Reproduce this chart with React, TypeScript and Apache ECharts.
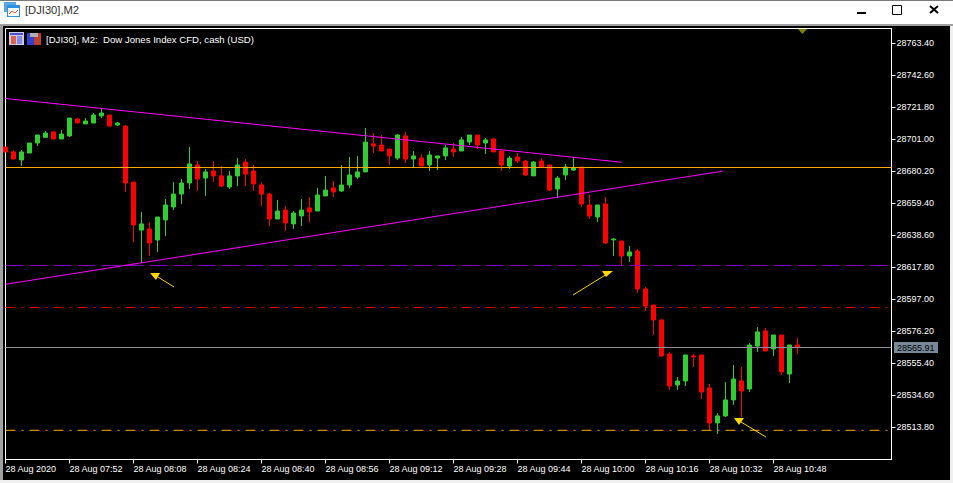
import React, { useEffect, useRef } from "react";
import * as echarts from "echarts";

const opens = [
  28696.0, 28692.8, 28687.6, 28692.1, 28698.6, 28702.3, 28705.8, 28701.2, 28703.2, 28714.2,
  28711.0, 28711.6, 28716.2, 28716.8, 28710.3, 28709.6, 28673.2, 28642.0, 28642.7, 28635.6,
  28648.6, 28657.0, 28665.4, 28672.6, 28684.3, 28675.8, 28680.4, 28677.2, 28670.0, 28677.2,
  28686.2, 28680.4, 28671.3, 28665.4, 28649.2, 28655.0, 28646.0, 28651.2, 28656.4, 28654.4,
  28664.2, 28669.4, 28667.4, 28671.3, 28676.5, 28679.8, 28698.0, 28697.3, 28694.7, 28688.8,
  28703.2, 28688.2, 28688.8, 28684.3, 28688.8, 28690.2, 28694.7, 28693.4, 28699.2, 28703.8,
  28698.6, 28701.2, 28693.4, 28683.6, 28689.5, 28686.9, 28677.2, 28686.9, 28684.3, 28668.7,
  28677.8, 28681.0, 28683.0, 28658.3, 28650.5, 28659.0, 28635.6, 28634.9, 28625.2, 28628.4,
  28603.7, 28593.3, 28583.6, 28561.4, 28541.3, 28543.9, 28560.2, 28560.8, 28539.4, 28516.6,
  28521.2, 28531.6, 28543.9, 28538.7, 28566.6, 28576.4, 28564.7, 28573.8, 28548.4, 28567.3,
];
const closes = [
  28692.8, 28688.2, 28692.8, 28698.6, 28703.8, 28705.1, 28701.2, 28704.4, 28714.8, 28711.6,
  28712.9, 28716.8, 28718.1, 28709.6, 28711.6, 28672.6, 28645.3, 28646.0, 28633.6, 28650.5,
  28658.3, 28665.4, 28672.6, 28685.0, 28675.2, 28679.8, 28677.2, 28670.6, 28677.2, 28684.3,
  28678.4, 28672.0, 28665.4, 28649.2, 28654.4, 28646.6, 28653.1, 28655.0, 28653.8, 28664.8,
  28668.0, 28666.8, 28671.3, 28677.8, 28679.8, 28699.2, 28696.6, 28693.4, 28690.2, 28703.8,
  28688.2, 28690.2, 28683.6, 28690.8, 28690.2, 28695.4, 28692.8, 28700.6, 28703.8, 28697.3,
  28700.6, 28692.8, 28684.3, 28688.8, 28686.9, 28677.8, 28686.2, 28683.0, 28668.0, 28675.8,
  28683.0, 28682.4, 28659.0, 28651.2, 28658.3, 28633.6, 28636.2, 28625.2, 28627.8, 28603.7,
  28592.6, 28583.6, 28560.2, 28540.6, 28543.9, 28560.8, 28559.5, 28536.8, 28516.6, 28521.2,
  28531.6, 28545.2, 28537.4, 28567.3, 28575.8, 28563.4, 28573.8, 28549.8, 28567.3, 28565.9,
];
const lows = [
  28692.8, 28688.2, 28683.6, 28692.1, 28696.6, 28701.8, 28701.2, 28701.2, 28702.5, 28711.6,
  28711.0, 28711.6, 28714.8, 28709.6, 28709.6, 28666.8, 28634.2, 28620.6, 28625.2, 28627.8,
  28638.2, 28655.0, 28659.0, 28668.7, 28667.4, 28664.2, 28673.2, 28670.0, 28668.7, 28670.6,
  28670.6, 28667.4, 28657.6, 28644.6, 28649.2, 28641.4, 28642.7, 28644.6, 28647.2, 28654.4,
  28664.2, 28663.5, 28666.8, 28669.4, 28675.2, 28679.8, 28692.1, 28693.4, 28684.3, 28687.6,
  28685.6, 28682.8, 28683.6, 28680.4, 28681.0, 28687.6, 28689.5, 28693.4, 28697.3, 28694.7,
  28691.4, 28692.8, 28680.4, 28681.7, 28685.6, 28677.2, 28677.2, 28683.0, 28667.4, 28662.8,
  28674.6, 28680.4, 28657.0, 28649.2, 28647.2, 28633.0, 28625.2, 28618.8, 28621.2, 28601.1,
  28589.4, 28573.8, 28559.5, 28538.0, 28538.0, 28540.6, 28553.0, 28532.2, 28511.8, 28509.4,
  28520.5, 28528.3, 28520.5, 28536.8, 28562.8, 28563.4, 28560.2, 28547.8, 28542.6, 28561.4,
];
const highs = [
  28696.0, 28694.0, 28694.0, 28698.6, 28703.8, 28706.4, 28705.8, 28707.0, 28714.8, 28714.8,
  28714.8, 28718.1, 28720.7, 28716.8, 28712.2, 28710.3, 28673.2, 28653.8, 28647.2, 28650.5,
  28662.2, 28673.2, 28675.2, 28696.0, 28686.9, 28681.7, 28686.9, 28683.6, 28680.4, 28688.8,
  28688.2, 28684.3, 28673.2, 28666.1, 28661.6, 28657.6, 28654.4, 28662.2, 28663.5, 28669.4,
  28677.2, 28673.9, 28684.3, 28689.5, 28690.2, 28708.4, 28705.1, 28703.8, 28694.7, 28704.4,
  28705.8, 28693.4, 28691.4, 28693.4, 28690.2, 28697.3, 28698.6, 28702.5, 28703.8, 28703.8,
  28701.8, 28701.8, 28693.4, 28690.2, 28692.1, 28687.6, 28686.9, 28688.8, 28684.3, 28677.2,
  28685.0, 28689.5, 28683.0, 28664.8, 28658.3, 28663.5, 28636.8, 28634.9, 28631.6, 28629.7,
  28605.0, 28593.3, 28583.6, 28562.8, 28546.5, 28560.8, 28561.4, 28560.8, 28542.0, 28523.1,
  28543.2, 28554.3, 28553.0, 28568.6, 28579.0, 28578.4, 28573.8, 28573.8, 28567.3, 28571.8,
];

const timeLabels = [
  "28 Aug 2020", "28 Aug 07:52", "28 Aug 08:08", "28 Aug 08:24", "28 Aug 08:40", "28 Aug 08:56", "28 Aug 09:12",
  "28 Aug 09:28", "28 Aug 09:44", "28 Aug 10:00", "28 Aug 10:16", "28 Aug 10:32", "28 Aug 10:48",
];
const priceTicks = [
  28513.8, 28534.6, 28555.4, 28576.2, 28597.0, 28617.8, 28638.6, 28659.4, 28680.2, 28701.0, 28721.8, 28742.6, 28763.4,
];

const resistanceLevel = 28682.67;
const purpleLevel = 28619.0;
const redLevel = 28591.67;
const bidLine = 28565.67;
const bidLabel = "28565.91";
const orangeLevel = 28511.85;
const upperTrend = [[0, 28727.5], [77.06, 28686.05]];
const lowerTrend = [[0, 28606.75], [89.69, 28680.36]];

const FONT = "'Liberation Sans', Arial, sans-serif";
const X_MAX = 110.75;
const Y_MAX = 28773.02;
const Y_MIN = 28492.87;

const hline = (name: string, value: number, color: string, type: any) => ({
  type: "line",
  name,
  data: [[0, value], [X_MAX, value]],
  showSymbol: false,
  silent: true,
  z: 4,
  lineStyle: { color, width: 1, type },
});
const trend = (name: string, data: number[][]) => ({
  type: "line",
  name,
  data,
  showSymbol: false,
  silent: true,
  z: 5,
  lineStyle: { color: "#FF00FF", width: 1 },
});

const rect = (x: number, y: number, w: number, h: number, fill: string, z = -5) => ({
  type: "rect",
  z,
  silent: true,
  shape: { x, y, width: w, height: h },
  style: { fill },
});
const poly = (points: number[][], fill: string) => ({
  type: "polygon",
  z: 50,
  silent: true,
  shape: { points },
  style: { fill },
});
const seg = (x1: number, y1: number, x2: number, y2: number, stroke: string, lineWidth = 1, z = 50) => ({
  type: "line",
  z,
  silent: true,
  shape: { x1, y1, x2, y2 },
  style: { stroke, lineWidth },
});
const label = (x: number, y: number, text: string, fontSize: number, fill: string) => ({
  type: "text",
  z: 50,
  silent: true,
  x,
  y,
  style: { text, fontSize, fill, fontFamily: FONT, verticalAlign: "middle", align: "left" },
});

const chrome = [
  rect(0, 0, 953, 1, "#7a7a7a"),
  rect(0, 1, 953, 23, "#ffffff"),
  rect(0, 24, 953, 2, "#a0a0a0"),
  rect(0, 26, 3, 454, "#a0a0a0"),
  rect(3, 26, 947, 454, "#000000"),
  // window icon
  rect(4, 2, 12, 10, "#5aa7e0", 40),
  rect(7, 5, 13, 12, "#2f8fe0", 41),
  rect(8, 8, 11, 8, "#ffffff", 42),
  seg(9, 14, 12, 11, "#e05a20", 1, 43),
  seg(12, 11, 15, 13, "#e05a20", 1, 43),
  seg(15, 13, 18, 10, "#e05a20", 1, 43),
  label(25, 10, "[DJI30],M2", 11.2, "#303030"),
  // window buttons
  rect(857, 12, 9, 2, "#000000", 40),
  { type: "rect", z: 40, silent: true, shape: { x: 892.5, y: 5.5, width: 9, height: 9 }, style: { fill: "none", stroke: "#000", lineWidth: 1 } },
  seg(930, 6, 938, 13, "#000000", 2),
  seg(938, 6, 930, 13, "#000000", 2),
  // chart title icons
  rect(9, 32, 15, 13, "#c9c9e8", 40),
  rect(10, 33, 13, 2, "#5050c0", 41),
  rect(11, 36, 5, 8, "#e06050", 41),
  rect(17, 36, 5, 8, "#7f8fe8", 41),
  rect(27, 33, 7, 12, "#3040d0", 40),
  rect(34, 33, 7, 12, "#c04030", 40),
  rect(30, 33, 8, 4, "#b0b0b0", 41),
  label(46, 39, "[DJI30], M2:  Dow Jones Index CFD, cash (USD)", 9.6, "#ffffff"),
  // ask marker at the top of the chart
  poly([[798, 29], [807, 29], [802.5, 34]], "#808000"),
  // hand drawn arrows
  poly([[150, 273], [160, 273], [156, 280]], "#FFD700"),
  seg(158, 277, 174, 287, "#FFD700"),
  poly([[602, 271], [613, 271], [606, 277]], "#FFD700"),
  seg(573, 295, 607, 274, "#FFD700"),
  poly([[734, 418], [744, 418], [739, 425]], "#FFD700"),
  seg(741, 422, 766, 437, "#FFD700"),
  // current price box
  rect(894, 342, 44, 11, "#778899", 60),
  { ...label(897, 347.5, bidLabel, 9, "#000000"), z: 61 },
];

export default function App() {
  const ref = useRef<HTMLDivElement>(null);
  useEffect(() => {
    const chart = echarts.init(ref.current!, undefined, { renderer: "svg" });
    chart.setOption({
      animation: false,
      backgroundColor: "#f0f0f0",
      grid: {
        left: 5.5,
        top: 28.5,
        width: 886,
        height: 431,
        show: true,
        borderColor: "#ffffff",
        borderWidth: 1,
        backgroundColor: "#000000",
      },
      xAxis: {
        type: "value",
        min: 0,
        max: X_MAX,
        splitLine: { show: false },
        axisLine: { show: true, onZero: false, lineStyle: { color: "#ffffff" } },
        axisTick: { show: true, length: 4, lineStyle: { color: "#ffffff" }, customValues: timeLabels.map((_, i) => i * 8) },
        axisLabel: {
          customValues: timeLabels.map((_, i) => i * 8),
          color: "#ffffff",
          fontFamily: FONT,
          fontSize: 9,
          align: "left",
          margin: 5,
          formatter: (v: number) => timeLabels[Math.round(v / 8)] ?? "",
        },
      },
      yAxis: {
        type: "value",
        position: "right",
        min: Y_MIN,
        max: Y_MAX,
        scale: true,
        splitLine: { show: false },
        axisLine: { show: true, onZero: false, lineStyle: { color: "#ffffff" } },
        axisTick: { show: true, length: 4, lineStyle: { color: "#ffffff" }, customValues: priceTicks },
        axisLabel: {
          customValues: priceTicks,
          color: "#ffffff",
          fontFamily: FONT,
          fontSize: 9,
          margin: 5,
          formatter: (v: number) => v.toFixed(2),
        },
      },
      series: [
        {
          type: "candlestick",
          name: "DJI30",
          barWidth: 4,
          silent: true,
          z: 3,
          encode: { x: 0, y: [1, 2, 3, 4] },
          data: opens.map((o, i) => [i, o, closes[i], lows[i], highs[i]]),
          itemStyle: {
            color: "#32CD32",
            color0: "#FF0000",
            borderColor: "#32CD32",
            borderColor0: "#FF0000",
            borderWidth: 1,
          },
        },
        hline("resistance", resistanceLevel, "#FFA500", "solid"),
        hline("support", purpleLevel, "#8A00C8", [18, 6]),
        hline("level", redLevel, "#E00000", [10, 6, 2, 6]),
        hline("bid", bidLine, "#8A8F94", "solid"),
        hline("floor", orangeLevel, "#FFA500", [10, 6, 2, 6]),
        trend("upper trend", upperTrend),
        trend("lower trend", lowerTrend),
      ],
      graphic: { elements: chrome },
    });
    return () => chart.dispose();
  }, []);
  return <div ref={ref} style={{ position: "absolute", left: 0, top: 0, width: 953, height: 483 }} />;
}
